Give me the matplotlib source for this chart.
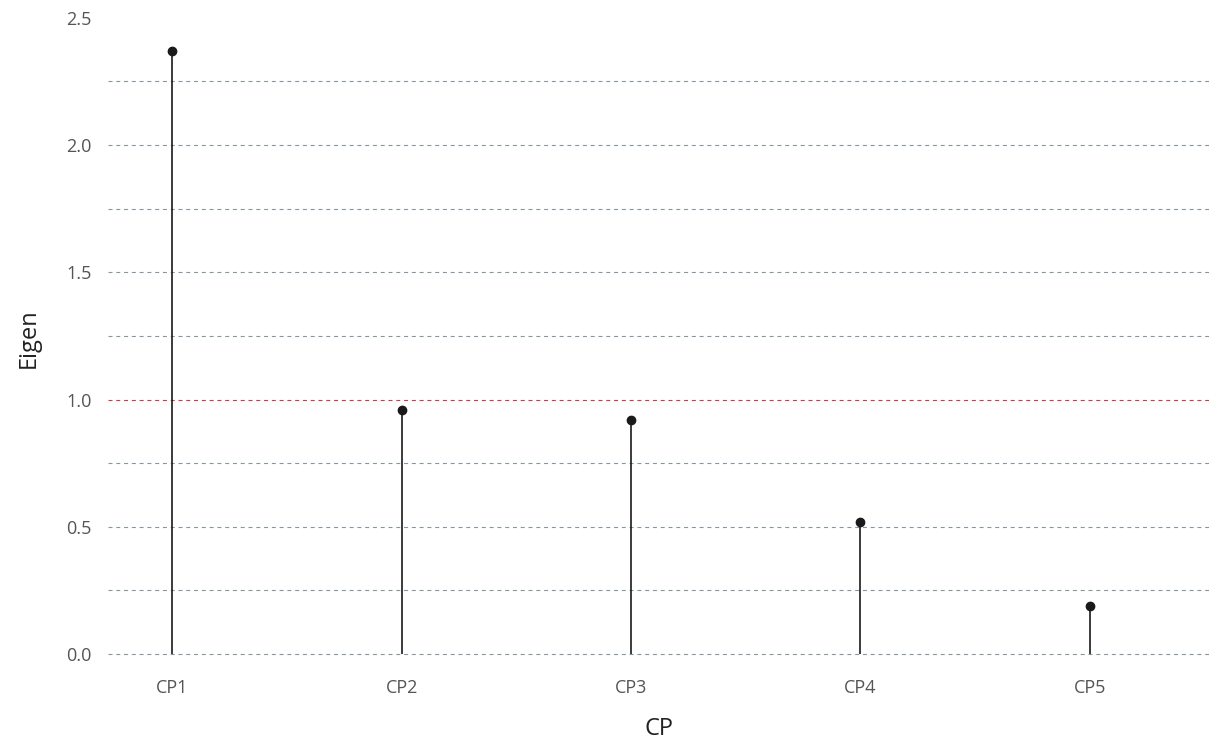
import matplotlib
matplotlib.use("Agg")
import matplotlib.pyplot as plt
import numpy as np

plt.rcParams['font.family'] = ['Open Sans', 'DejaVu Sans']

components = ["CP1", "CP2", "CP3", "CP4", "CP5"]
eigenvalues = [2.37, 0.96, 0.92, 0.52, 0.19]
y_ticks = [0.0, 0.5, 1.0, 1.5, 2.0, 2.5]
guide_levels = [0.0, 0.25, 0.5, 0.75, 1.25, 1.5, 1.75, 2.0, 2.25]
kaiser_level = 1.0

fig = plt.figure(figsize=(12.09, 7.42), dpi=100)
ax = fig.add_axes([108 / 1209, 0.1049, 1 - 108 / 1209, 0.9829 - 0.1049])

x = np.arange(len(components))
dash = (0, (3.6, 3.4))
for lvl in guide_levels:
    ax.axhline(lvl, color="#8797a2", lw=0.8, linestyle=dash, zorder=1)
ax.axhline(kaiser_level, color="#d9363e", lw=0.8, linestyle=dash, zorder=1)

ax.vlines(x, 0, eigenvalues, color="#1a1a1a", lw=1.2, zorder=3)
ax.plot(x, eigenvalues, "o", color="#1a1a1a", markersize=6, zorder=4)

ax.set_xlim(-0.28, 4.52)
ax.set_ylim(-0.04, 2.52)
ax.set_xticks(x)
ax.set_xticklabels(components)
ax.set_yticks(y_ticks)
ax.set_yticklabels([f"{v:.1f}" for v in y_ticks])
ax.tick_params(axis="both", length=0, labelsize=13, labelcolor="#555555")
ax.tick_params(axis="x", pad=11)
ax.tick_params(axis="y", pad=12)
for s in ax.spines.values():
    s.set_visible(False)

ax.set_xlabel("CP", fontsize=17, color="#222222", labelpad=14)
ax.set_ylabel("Eigen", fontsize=17, color="#222222", labelpad=18)

fig.savefig("out.png", dpi=100)
